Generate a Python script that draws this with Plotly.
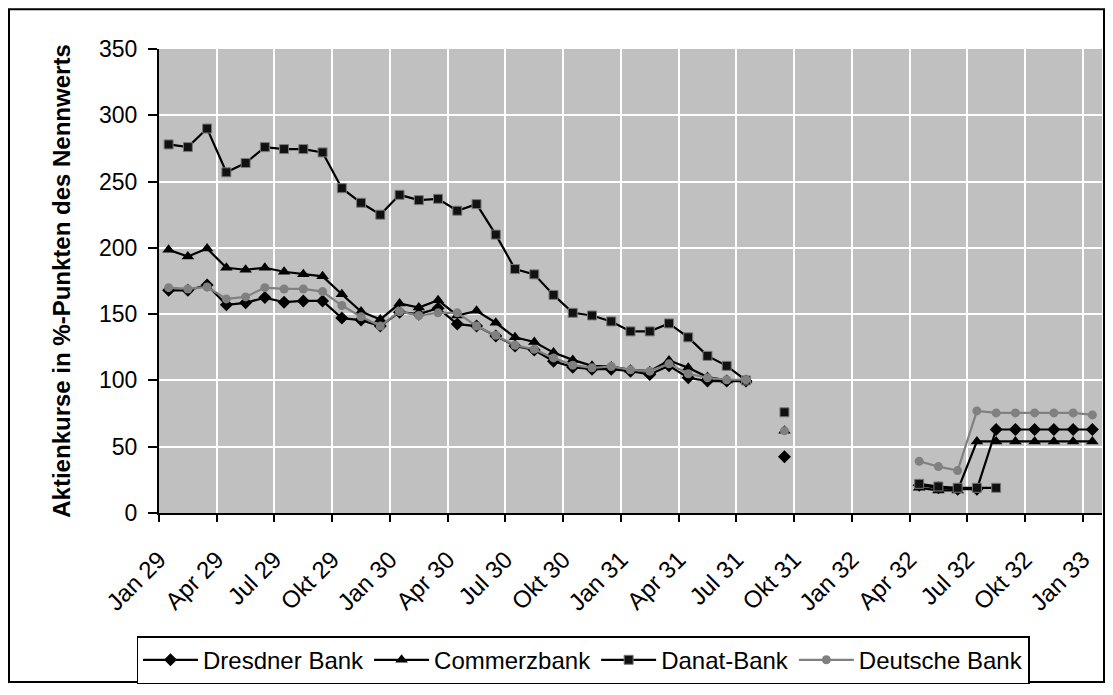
import plotly.graph_objects as go

# Months Jan 1929 .. Jan 1933 (49 monthly categories)
month_names = ["Jan", "Feb", "Mär", "Apr", "Mai", "Jun", "Jul", "Aug", "Sep", "Okt", "Nov", "Dez"]
months = [f"{month_names[m]} {y}" for y in range(29, 33) for m in range(12)] + ["Jan 33"]

tick_labels = ["Jan 29", "Apr 29", "Jul 29", "Okt 29", "Jan 30", "Apr 30", "Jul 30", "Okt 30",
               "Jan 31", "Apr 31", "Jul 31", "Okt 31", "Jan 32", "Apr 32", "Jul 32", "Okt 32", "Jan 33"]

N = None
dresdner = [168, 168, 172, 157, 158.5, 162.5, 159, 160, 160, 147, 145.5, 141,
            151.5, 150, 154.5, 142.5, 141, 133.5, 126, 123, 114.5, 110, 108.5, 108.5,
            107, 104.5, 111, 102, 99.5, 99.5, 99.5, N, 42.5, N, N, N,
            N, N, N, 21, 19, 18, 18, 63, 63, 63, 63, 63,
            63]
commerz = [198.5, 193.5, 199.5, 185, 183.5, 185, 182, 180, 178.5, 165, 152, 146,
           158, 155, 160.5, 149, 152.5, 143.5, 132.5, 129, 121, 115.5, 111, 110.5,
           108, 107, 115, 109.5, 102.5, 100, 100, N, 62, N, N, N,
           N, N, N, 19, 17, 17, 54, 54, 54, 54, 54, 54,
           54]
danat = [278, 276, 290, 257, 264, 276, 274.5, 274.5, 272, 245, 234, 225,
         240, 236, 237, 228, 233, 210, 184, 180, 164.5, 151, 149, 144.5,
         137, 137, 143, 132.5, 118.5, 111, 100, N, 76, N, N, N,
         N, N, N, 22, 20, 19, 19, 19, N, N, N, N,
         N]
deutsche = [170, 169, 170.5, 161.5, 163, 170, 169, 169, 167, 156.5, 148, 141,
            152, 149, 151, 151, 141, 134, 126.5, 123.5, 117, 111.5, 109.5, 110.5,
            108, 107, 112.5, 105, 102, 100.5, 100.5, N, 62, N, N, N,
            N, N, N, 39, 35, 32, 77, 75.5, 75.5, 75.5, 75.5, 75.5,
            74]

# each month occupies one slot; points sit in the middle of their slot
x = [i + 0.5 for i in range(len(months))]
tick_pos = [3 * k for k in range(len(tick_labels))]

FONT = "Liberation Sans, Arial, sans-serif"

series = [
    ("Dresdner Bank", dresdner, "black", dict(symbol="diamond", size=10, color="black")),
    ("Commerzbank", commerz, "black", dict(symbol="triangle-up", size=11, color="black")),
    ("Danat-Bank", danat, "black", dict(symbol="square", size=9, color="#111111",
                                        line=dict(color="#7a7a7a", width=1))),
    ("Deutsche Bank", deutsche, "#808080", dict(symbol="circle", size=9, color="#808080")),
]

fig = go.Figure()
for name, vals, col, mk in series:
    fig.add_trace(go.Scatter(
        x=x, y=vals, name=name, mode="lines+markers",
        line=dict(color=col, width=2.2), marker=mk,
        customdata=months, connectgaps=False,
        hovertemplate="%{customdata}: %{y}<extra>" + name + "</extra>",
    ))

# pixel geometry (figure coordinates; page adds an 8px body margin)
W, H = 1097, 679
L, R, T, B = 151, 1094, 41, 508
pw, ph = R - L, B - T

def px(xp):
    return (xp - L) / pw

def py(yp):
    return (B - yp) / ph

fig.update_layout(
    width=W, height=H,
    margin=dict(l=L, r=W - R, t=T, b=H - B, pad=0),
    paper_bgcolor="white",
    plot_bgcolor="#C0C0C0",
    font=dict(family=FONT, size=22, color="black"),
    showlegend=True,
    legend=dict(
        orientation="h", x=px(575), xanchor="center", y=py(632), yanchor="top",
        bgcolor="white", bordercolor="black", borderwidth=1.5,
        font=dict(family=FONT, size=24, color="black"),
        itemwidth=55, tracegroupgap=0,
    ),
    xaxis=dict(
        range=[0, len(months)], tickmode="array", tickvals=tick_pos, ticktext=tick_labels,
        tickangle=-45, showgrid=True, gridcolor="white", gridwidth=2,
        showline=True, linecolor="black", linewidth=2,
        ticks="outside", ticklen=7, tickwidth=2, tickcolor="black",
        ticklabelstandoff=14,
        zeroline=False, tickfont=dict(family=FONT, size=24),
    ),
    yaxis=dict(
        range=[0, 350], tickmode="array", tickvals=list(range(0, 351, 50)),
        showgrid=True, gridcolor="white", gridwidth=2,
        showline=True, linecolor="black", linewidth=2,
        ticks="outside", ticklen=9, tickwidth=2, tickcolor="black",
        ticklabelstandoff=6,
        zeroline=False, tickfont=dict(family=FONT, size=23),
        title=dict(text="<b>Aktienkurse in %-Punkten des Nennwerts</b>",
                   font=dict(family=FONT, size=24), standoff=22),
    ),
    shapes=[dict(type="rect", xref="paper", yref="paper",
                 x0=px(1), x1=px(W - 1), y0=py(H - 1), y1=py(1),
                 line=dict(color="black", width=2), fillcolor="rgba(0,0,0,0)", layer="below")],
)

fig.write_html("out.html")
